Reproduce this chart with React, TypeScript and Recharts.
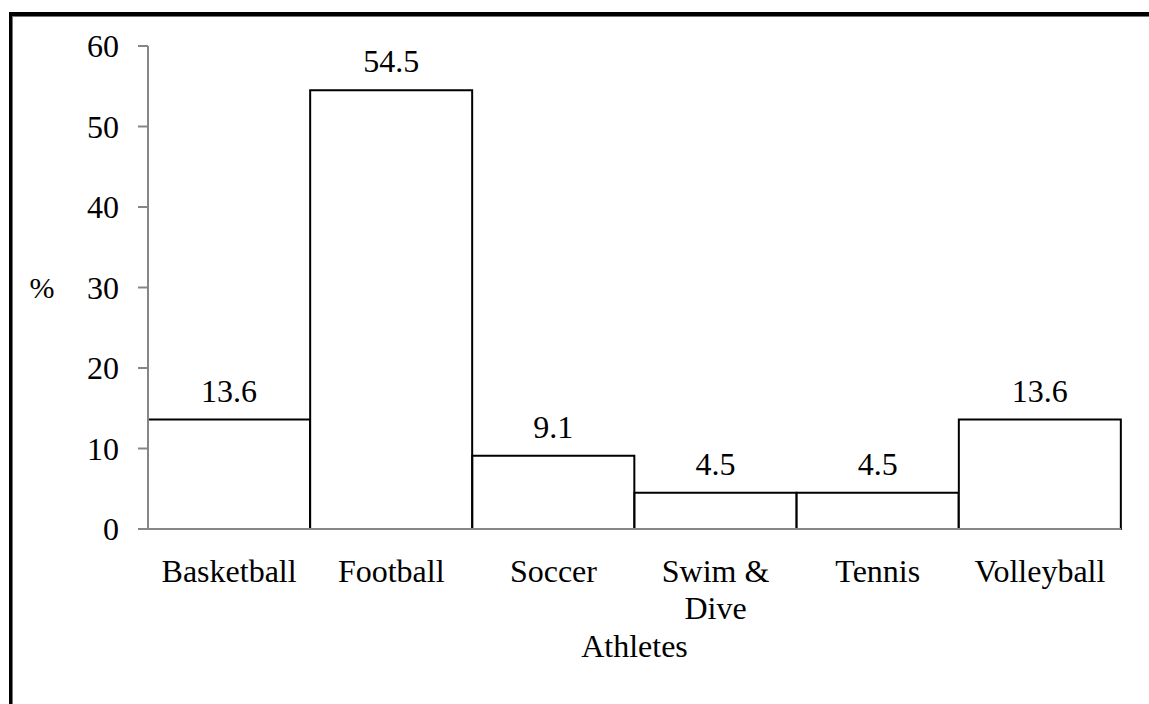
import React from "react";
import { BarChart, Bar, XAxis, YAxis, LabelList, Label } from "recharts";

const categories = ["Basketball", "Football", "Soccer", "Swim & Dive", "Tennis", "Volleyball"];
const values = [13.6, 54.5, 9.1, 4.5, 4.5, 13.6];
const tickLines: string[][] = [["Basketball"], ["Football"], ["Soccer"], ["Swim &", "Dive"], ["Tennis"], ["Volleyball"]];
const yTicks = [0, 10, 20, 30, 40, 50, 60];

const data = categories.map((c, i) => ({ name: c, value: values[i] }));

const FONT = "'Liberation Serif', 'Times New Roman', serif";

const XTick = (props: any) => {
  const { x, y, payload } = props;
  const idx = categories.indexOf(payload.value);
  const lines = idx >= 0 ? tickLines[idx] : [String(payload.value)];
  return (
    <text x={x} y={y} textAnchor="middle" fontFamily={FONT} fontSize={32} fill="#000">
      {lines.map((l, i) => (
        <tspan key={i} x={x} dy={i === 0 ? 45 : 37}>
          {l}
        </tspan>
      ))}
    </text>
  );
};

export default function App() {
  return (
    <div style={{ position: "absolute", left: 0, top: 0, width: 1149, height: 704, overflow: "hidden", background: "#fff" }}>
      <div
        style={{
          position: "absolute",
          left: 9,
          top: 12,
          width: 1200,
          height: 800,
          borderTop: "4px solid #000",
          borderLeft: "3px solid #000",
          boxShadow: "1px 1px 0 #777 inset",
        }}
      />
      <div style={{ position: "absolute", left: 0, top: 0 }}>
        <BarChart
          width={1149}
          height={704}
          data={data}
          margin={{ top: 46, right: 28, left: 0, bottom: 0 }}
          barCategoryGap={0}
        >
          <XAxis
            dataKey="name"
            height={175}
            axisLine={{ stroke: "#868686", strokeWidth: 2 }}
            tickLine={false}
            tick={<XTick />}
            interval={0}
          >
            <Label
              content={(p: any) => {
                const vb = p.viewBox;
                return (
                  <text x={vb.x + vb.width / 2} y={657} textAnchor="middle" fontFamily={FONT} fontSize={32} fill="#000">
                    Athletes
                  </text>
                );
              }}
            />
          </XAxis>
          <YAxis
            width={148}
            domain={[0, 60]}
            ticks={yTicks}
            interval={0}
            axisLine={{ stroke: "#868686", strokeWidth: 2 }}
            tickLine={{ stroke: "#868686", strokeWidth: 2 }}
            tickSize={10}
            tickMargin={19}
            tick={{ fontFamily: FONT, fontSize: 32, fill: "#000" }}
          >
            <Label
              content={(p: any) => {
                const vb = p.viewBox;
                return (
                  <text x={42} y={vb.y + vb.height / 2} dy="0.355em" textAnchor="middle" fontFamily={FONT} fontSize={30} fill="#000">
                    %
                  </text>
                );
              }}
            />
          </YAxis>
          <Bar dataKey="value" fill="#fff" stroke="#000" strokeWidth={2} isAnimationActive={false}>
            <LabelList
              dataKey="value"
              position="top"
              offset={18}
              style={{ fontFamily: FONT, fontSize: 32, fill: "#000" }}
              formatter={(v: any) => Number(v).toFixed(1)}
            />
          </Bar>
        </BarChart>
      </div>
    </div>
  );
}
